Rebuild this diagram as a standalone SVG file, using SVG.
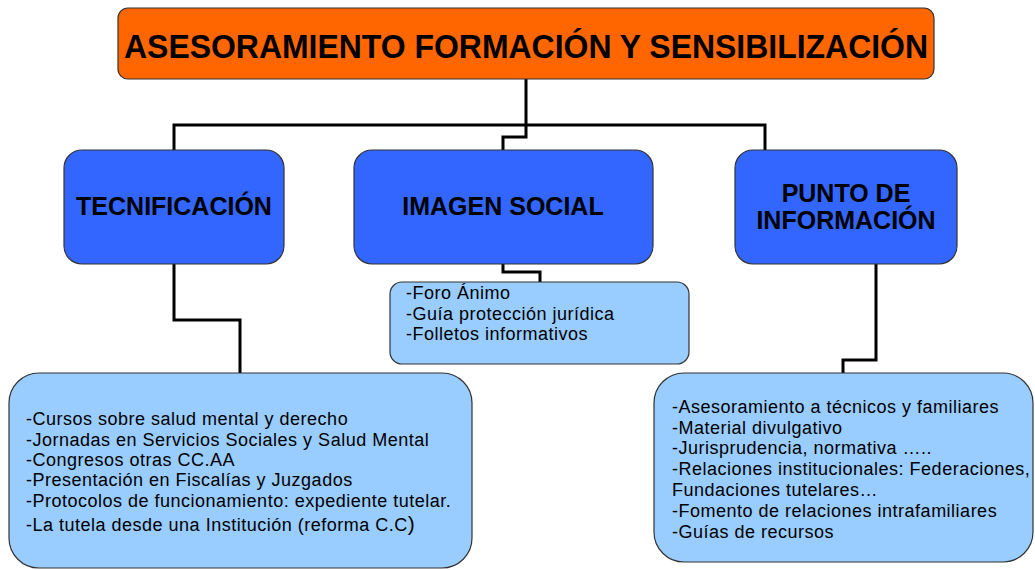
<svg xmlns="http://www.w3.org/2000/svg" width="1035" height="570" viewBox="0 0 1035 570">
<style>
.box{stroke:#333333;stroke-width:1.2}
.title{fill:#FF6600}
.main{fill:#3366FF}
.sub{fill:#99CCFF}
.hd{font-family:"Liberation Sans",Arial,sans-serif;font-weight:bold;fill:#000;text-anchor:middle}
.tx{font-family:"Liberation Sans",Arial,sans-serif;font-size:18px;letter-spacing:0.5px;fill:#000}
.conn{fill:none;stroke:#000;stroke-width:3}
</style>
<rect width="1035" height="570" fill="#ffffff"/>
<g id="connectors">
<path class="conn" d="M526,79 V125 M174,150 V125 H765 V150 M526,125 V137 H503 V150"/>
<path class="conn" d="M174,264 V320 H240 V373"/>
<path class="conn" d="M503,264 V272 H540 V282"/>
<path class="conn" d="M876,264 V360 H843 V373"/>
</g>
<g id="title">
<rect class="box title" x="118" y="8" width="816" height="71" rx="10"/>
<text class="hd" x="526" y="58" font-size="34" textLength="804" lengthAdjust="spacingAndGlyphs">ASESORAMIENTO FORMACIÓN Y SENSIBILIZACIÓN</text>
</g>
<g id="tecnificacion">
<rect class="box main" x="64" y="150" width="220" height="114" rx="18"/>
<text class="hd" x="174" y="215" font-size="25">TECNIFICACIÓN</text>
</g>
<g id="imagen-social">
<rect class="box main" x="354" y="150" width="299" height="114" rx="18"/>
<text class="hd" x="503" y="215" font-size="25">IMAGEN SOCIAL</text>
</g>
<g id="punto-informacion">
<rect class="box main" x="735" y="150" width="222" height="114" rx="18"/>
<text class="hd" x="846" y="202" font-size="25">PUNTO DE</text>
<text class="hd" x="846" y="229" font-size="25">INFORMACIÓN</text>
</g>
<g id="imagen-detalle">
<rect class="box sub" x="390" y="282" width="299" height="82" rx="12"/>
<text class="tx" x="406" y="299">-Foro Ánimo</text>
<text class="tx" x="406" y="320">-Guía protección jurídica</text>
<text class="tx" x="406" y="340">-Folletos informativos</text>
</g>
<g id="tecnificacion-detalle">
<rect class="box sub" x="9" y="373" width="463" height="195" rx="30"/>
<text class="tx" x="26" y="425">-Cursos sobre salud mental y derecho</text>
<text class="tx" x="26" y="446">-Jornadas en Servicios Sociales y Salud Mental</text>
<text class="tx" x="26" y="466">-Congresos otras CC.AA</text>
<text class="tx" x="26" y="486">-Presentación en Fiscalías y Juzgados</text>
<text class="tx" x="26" y="507">-Protocolos de funcionamiento: expediente tutelar.</text>
<text class="tx" x="26" y="531">-La tutela desde una Institución (reforma C.C<tspan font-size="21">)</tspan></text>
</g>
<g id="punto-detalle">
<rect class="box sub" x="654" y="373" width="379" height="189" rx="30"/>
<text class="tx" x="672" y="413">-Asesoramiento a técnicos y familiares</text>
<text class="tx" x="672" y="434">-Material divulgativo</text>
<text class="tx" x="672" y="454">-Jurisprudencia, normativa …..</text>
<text class="tx" x="672" y="475">-Relaciones institucionales: Federaciones,</text>
<text class="tx" x="672" y="496">Fundaciones tutelares…</text>
<text class="tx" x="672" y="517">-Fomento de relaciones intrafamiliares</text>
<text class="tx" x="672" y="538">-Guías de recursos</text>
</g>
</svg>
